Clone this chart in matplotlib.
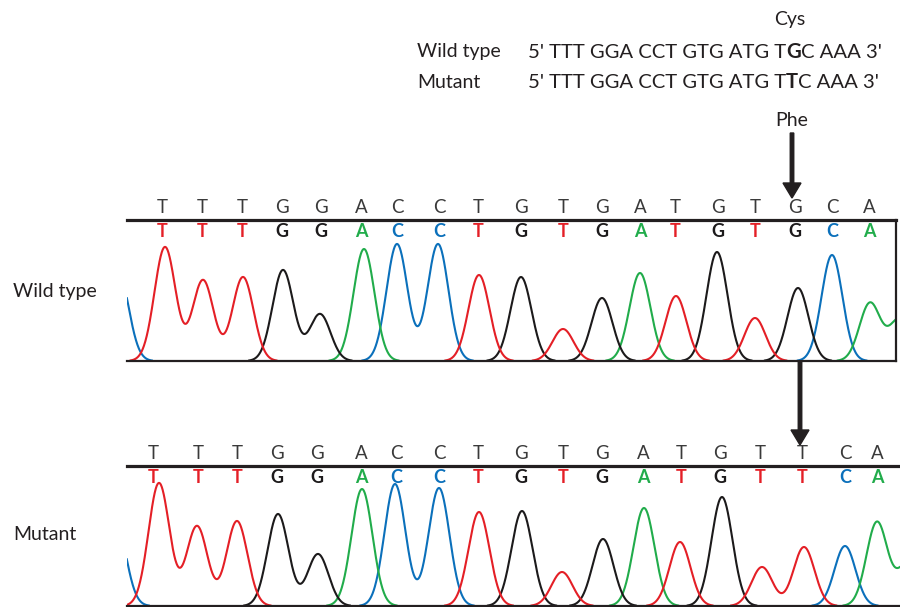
"""Sanger sequencing traces: wild type vs. a G>T point mutant (Cys -> Phe)."""

import matplotlib

matplotlib.use("Agg")

import matplotlib.pyplot as plt  # noqa: E402
import numpy as np  # noqa: E402

plt.rcParams["font.family"] = ["Lato", "DejaVu Sans"]

# Base calls and where they sit along the scan axis
WT_CALLS = list("TTTGGACCTGTGATGTGCA")
MUT_CALLS = list("TTTGGACCTGTGATGTTCA")
WT_CALL_POS = [162, 202, 242, 282, 321, 361, 397, 439, 478, 521, 563, 602, 640, 675, 718, 755, 795, 832, 869]
MUT_CALL_POS = [153, 198, 237, 277, 317, 361, 396, 439, 478, 521, 563, 602, 643, 681, 720, 760, 802, 845, 877]

# Peaks per dye channel: (scan position, signal)
WT_T_PEAKS = [(165, 114), (203, 81), (243, 84), (479, 86), (563, 32), (676, 65), (755, 43)]
WT_G_PEAKS = [(283, 91), (320, 47), (521, 84), (602, 63), (717, 109), (798, 73)]
WT_A_PEAKS = [(364, 112), (640, 88), (870, 58), (900, 42)]
WT_C_PEAKS = [(118, 90), (397, 117), (438, 117), (832, 106)]

MUT_T_PEAKS = [(159, 123), (197, 80), (237, 85), (479, 94), (562, 34), (680, 64), (762, 39), (804, 59)]
MUT_G_PEAKS = [(278, 92), (318, 52), (522, 95), (603, 67), (722, 109)]
MUT_A_PEAKS = [(362, 117), (644, 98), (877, 84), (908, 42)]
MUT_C_PEAKS = [(115, 88), (395, 122), (439, 118), (845, 60)]

# Codon sequences shown at the top (bold part = mutated base)
WT_SEQ = ["5' TTT GGA CCT GTG ATG T", "G", "C AAA 3'"]
MUT_SEQ = ["5' TTT GGA CCT GTG ATG T", "T", "C AAA 3'"]

BASE_COLORS = {"T": "#e41f26", "G": "#1c1a1b", "A": "#21ac4b", "C": "#0b70bb"}
INK = "#231f20"
PEAK_SIGMA = 10.5
FIG_W, FIG_H = 900, 607


def trace(scan: np.ndarray, peaks: list[tuple[int, int]]) -> np.ndarray:
    signal = np.zeros_like(scan)
    for center, height in peaks:
        signal += height * np.exp(-((scan - center) ** 2) / (2 * PEAK_SIGMA**2))
    signal[signal < 0.5] = np.nan
    return signal


def add_panel(fig, box, channels, calls, call_pos, right_spine):
    left, top, right, bottom = box
    ax = fig.add_axes([left / FIG_W, 1 - bottom / FIG_H, (right - left) / FIG_W, (bottom - top) / FIG_H])
    ax.patch.set_alpha(0)
    scan = np.linspace(left - 40, right + 40, 3000)
    for peaks, base in channels:
        ax.plot(scan, trace(scan, peaks), color=BASE_COLORS[base], lw=1.5)
    ax.set_xlim(left, right)
    ax.set_ylim(0, bottom - top)
    ax.set_xticks([])
    ax.set_yticks([])
    ax.spines["left"].set_visible(False)
    ax.spines["right"].set_visible(right_spine)
    ax.spines["top"].set_linewidth(2.3)
    ax.spines["bottom"].set_linewidth(1.6)
    ax.spines["right"].set_linewidth(1.6)
    for spine in ax.spines.values():
        spine.set_color(INK)

    for base, x in zip(calls, call_pos):
        ax.annotate(base, xy=(x, 1), xycoords=("data", "axes fraction"), xytext=(0, 9),
                    textcoords="offset points", ha="center", va="center", fontsize=13.5,
                    color="#3a3a3a", annotation_clip=False)
        ax.annotate(base, xy=(x, 1), xycoords=("data", "axes fraction"), xytext=(0, -8.5),
                    textcoords="offset points", ha="center", va="center", fontsize=13,
                    fontweight="bold", color=BASE_COLORS[base], annotation_clip=False)
    return ax


def add_sequence(canvas, renderer, x, y, parts):
    for i, part in enumerate(parts):
        t = canvas.text(x, y, part, ha="left", va="center", fontsize=14.6, color=INK,
                        fontweight="bold" if i == 1 else "normal")
        x += t.get_window_extent(renderer).width


def main() -> None:
    fig = plt.figure(figsize=(FIG_W / 100, FIG_H / 100), dpi=100)
    canvas = fig.add_axes([0, 0, 1, 1])
    canvas.set_xlim(0, FIG_W)
    canvas.set_ylim(FIG_H, 0)
    canvas.axis("off")
    renderer = fig.canvas.get_renderer()

    canvas.text(790, 19, "Cys", ha="center", va="center", fontsize=14, color=INK)
    canvas.text(417, 52, "Wild type", ha="left", va="center", fontsize=14, color=INK)
    canvas.text(417, 82, "Mutant", ha="left", va="center", fontsize=14, color=INK)
    add_sequence(canvas, renderer, 528, 52, WT_SEQ)
    add_sequence(canvas, renderer, 528, 82, MUT_SEQ)
    canvas.text(792, 120, "Phe", ha="center", va="center", fontsize=14, color=INK)

    canvas.text(13, 292, "Wild type", ha="left", va="center", fontsize=14, color=INK)
    canvas.text(13, 534, "Mutant", ha="left", va="center", fontsize=14, color=INK)

    canvas.arrow(792, 133, 0, 65, width=3.5, head_width=18, head_length=15,
                 length_includes_head=True, color=INK)
    canvas.arrow(800, 361, 0, 84, width=3.5, head_width=18, head_length=15,
                 length_includes_head=True, color=INK)

    add_panel(fig, (127, 220, 896, 361),
              [(WT_C_PEAKS, "C"), (WT_A_PEAKS, "A"), (WT_G_PEAKS, "G"), (WT_T_PEAKS, "T")],
              WT_CALLS, WT_CALL_POS, right_spine=True)
    add_panel(fig, (127, 466, 900, 606),
              [(MUT_C_PEAKS, "C"), (MUT_A_PEAKS, "A"), (MUT_G_PEAKS, "G"), (MUT_T_PEAKS, "T")],
              MUT_CALLS, MUT_CALL_POS, right_spine=False)

    fig.savefig("out.png", dpi=100)
    plt.close(fig)


if __name__ == "__main__":
    main()
